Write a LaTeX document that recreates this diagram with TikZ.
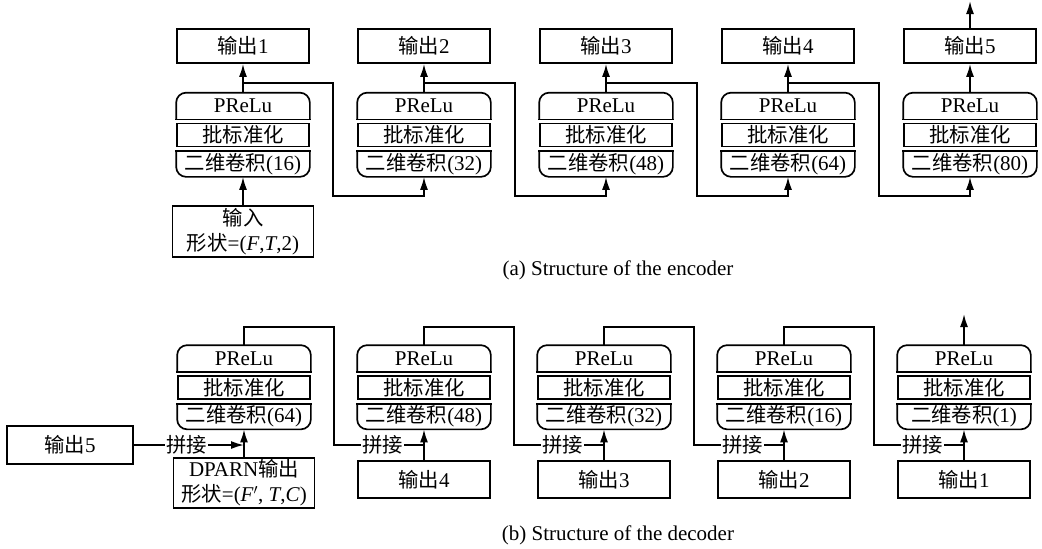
\documentclass[tikz,border=0pt]{standalone}
\usepackage{fontspec}
\setmainfont{Liberation Serif}
\newfontfamily\zh[Scale=0.97]{Noto Sans CJK SC}
\usetikzlibrary{arrows.meta}

\tikzset{
    io/.style={draw, minimum width=132pt, minimum height=34pt, inner sep=0pt},
    prelu/.style={minimum width=132pt, minimum height=25pt, inner sep=0pt,
        append after command={\pgfextra{
            \draw[rounded corners=10pt] (\tikzlastnode.south west) -- (\tikzlastnode.north west)
                -- (\tikzlastnode.north east) -- (\tikzlastnode.south east);
            \draw[line cap=rect] (\tikzlastnode.south west) -- (\tikzlastnode.south east);}}},
    bn/.style={draw, minimum width=132pt, minimum height=23pt, inner sep=0pt},
    conv/.style={minimum width=132pt, minimum height=24pt, inner sep=0pt,
        append after command={\pgfextra{
            \draw[rounded corners=10pt] (\tikzlastnode.north west) -- (\tikzlastnode.south west)
                -- (\tikzlastnode.south east) -- (\tikzlastnode.north east);
            \draw[line cap=rect] (\tikzlastnode.north west) -- (\tikzlastnode.north east);}}},
    lbl/.style={fill=white, inner sep=1pt},
    arr/.style={-{Latex[length=13pt,width=8pt]}},
}

\begin{document}
\begin{tikzpicture}[x=1pt, y=-1pt, line width=1.7pt,
    font=\fontsize{21}{25}\selectfont]
    \useasboundingbox (0,0) rectangle (1042,549);

    % (a) encoder
    \begin{scope}
        \node[io] (eo1) at (243,46) {{\zh 输出}1};
        \node[io] (eo2) at (424,46) {{\zh 输出}2};
        \node[io] (eo3) at (606,46) {{\zh 输出}3};
        \node[io] (eo4) at (788,46) {{\zh 输出}4};
        \node[io] (eo5) at (970,46) {{\zh 输出}5};
        \node[prelu] (ep1) at (243,106) {PReLu};
        \node[prelu] (ep2) at (424,106) {PReLu};
        \node[prelu] (ep3) at (606,106) {PReLu};
        \node[prelu] (ep4) at (788,106) {PReLu};
        \node[prelu] (ep5) at (970,106) {PReLu};
        \node[bn] (eb1) at (243,135) {\zh 批标准化};
        \node[bn] (eb2) at (424,135) {\zh 批标准化};
        \node[bn] (eb3) at (606,135) {\zh 批标准化};
        \node[bn] (eb4) at (788,135) {\zh 批标准化};
        \node[bn] (eb5) at (970,135) {\zh 批标准化};
        \node[conv] (ec1) at (243,164) {{\zh 二维卷积}(16)};
        \node[conv] (ec2) at (424,164) {{\zh 二维卷积}(32)};
        \node[conv] (ec3) at (606,164) {{\zh 二维卷积}(48)};
        \node[conv] (ec4) at (788,164) {{\zh 二维卷积}(64)};
        \node[conv] (ec5) at (970,164) {{\zh 二维卷积}(80)};
        \node[io, minimum width=141pt, minimum height=51pt, align=center] (in) at (243,231.5)
            {{\zh 输入}\\{\zh 形状}=(\textit{F},\textit{T},2)};
        \node (capa) at (618,270) {(a) Structure of the encoder};
    \end{scope}
    \coordinate (j1) at (243,83);
    \coordinate (j2) at (424,83);
    \coordinate (j3) at (606,83);
    \coordinate (j4) at (788,83);
    \coordinate (m1) at (333,196);
    \coordinate (m2) at (515,196);
    \coordinate (m3) at (697,196);
    \coordinate (m4) at (879,196);
    \coordinate (top5) at (970,1);
    \draw[arr] (in) -- (ec1);
    \draw[arr] (ep1) -- (eo1);
    \draw[arr] (ep2) -- (eo2);
    \draw[arr] (ep3) -- (eo3);
    \draw[arr] (ep4) -- (eo4);
    \draw[arr] (ep5) -- (eo5);
    \draw[arr] (eo5) -- (top5);
    \draw[arr] (j1) -| (m1) -| (ec2.south);
    \draw[arr] (j2) -| (m2) -| (ec3.south);
    \draw[arr] (j3) -| (m3) -| (ec4.south);
    \draw[arr] (j4) -| (m4) -| (ec5.south);

    % (b) decoder
    \begin{scope}
        \node[prelu] (dp1) at (244,358.5) {PReLu};
        \node[prelu] (dp2) at (424,358.5) {PReLu};
        \node[prelu] (dp3) at (604,358.5) {PReLu};
        \node[prelu] (dp4) at (784,358.5) {PReLu};
        \node[prelu] (dp5) at (964,358.5) {PReLu};
        \node[bn] (db1) at (244,387.5) {\zh 批标准化};
        \node[bn] (db2) at (424,387.5) {\zh 批标准化};
        \node[bn] (db3) at (604,387.5) {\zh 批标准化};
        \node[bn] (db4) at (784,387.5) {\zh 批标准化};
        \node[bn] (db5) at (964,387.5) {\zh 批标准化};
        \node[conv] (dc1) at (244,416.5) {{\zh 二维卷积}(64)};
        \node[conv] (dc2) at (424,416.5) {{\zh 二维卷积}(48)};
        \node[conv] (dc3) at (604,416.5) {{\zh 二维卷积}(32)};
        \node[conv] (dc4) at (784,416.5) {{\zh 二维卷积}(16)};
        \node[conv] (dc5) at (964,416.5) {{\zh 二维卷积}(1)};
        \node[io, minimum width=126pt, minimum height=38pt] (do5) at (70,445) {{\zh 输出}5};
        \node[io, minimum width=141pt, minimum height=50pt, align=center] (dparn) at (244,483)
            {DPARN{\zh 输出}\\{\zh 形状}=(\textit{F}$'$, \textit{T},\textit{C})};
        \node[io, minimum height=37pt] (do4) at (424,479.5) {{\zh 输出}4};
        \node[io, minimum height=37pt] (do3) at (604,479.5) {{\zh 输出}3};
        \node[io, minimum height=37pt] (do2) at (784,479.5) {{\zh 输出}2};
        \node[io, minimum height=37pt] (do1) at (964,479.5) {{\zh 输出}1};
        \node (capb) at (618,535) {(b) Structure of the decoder};
    \end{scope}
    \coordinate (t1) at (334,327);
    \coordinate (t2) at (514,327);
    \coordinate (t3) at (694,327);
    \coordinate (t4) at (874,327);
    \coordinate (q1) at (244,445);
    \coordinate (q2) at (424,445);
    \coordinate (q3) at (604,445);
    \coordinate (q4) at (784,445);
    \coordinate (q5) at (964,445);
    \coordinate (top6) at (964,314);
    \draw[arr] (dparn) -- (dc1);
    \draw[arr] (do4) -- (dc2);
    \draw[arr] (do3) -- (dc3);
    \draw[arr] (do2) -- (dc4);
    \draw[arr] (do1) -- (dc5);
    \draw[arr] (dp5) -- (top6);
    \draw[arr] (do5) -- node[lbl, pos=0.48] {\zh 拼接} (q1);
    \draw (dp1.north) |- (t1) |- node[lbl, pos=0.77] {\zh 拼接} (q2);
    \draw (dp2.north) |- (t2) |- node[lbl, pos=0.77] {\zh 拼接} (q3);
    \draw (dp3.north) |- (t3) |- node[lbl, pos=0.77] {\zh 拼接} (q4);
    \draw (dp4.north) |- (t4) |- node[lbl, pos=0.77] {\zh 拼接} (q5);
\end{tikzpicture}
\end{document}
